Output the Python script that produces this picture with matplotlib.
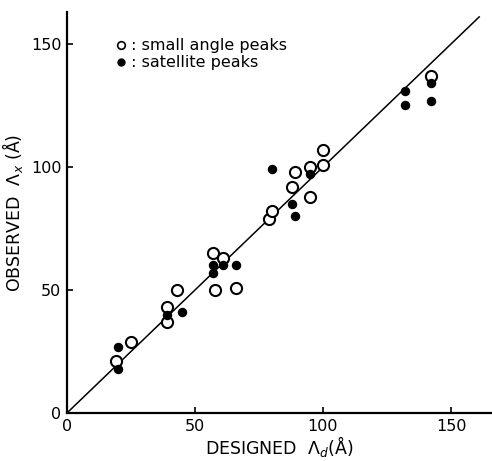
"""
Observed vs designed multilayer period: small angle peaks and satellite peaks.
"""
import matplotlib
matplotlib.use("Agg")
import matplotlib.pyplot as plt

# small angle peaks (open circles): designed, observed
small_x = [19, 25, 39, 39, 43, 57, 58, 61, 66, 79, 80, 88, 89, 95, 95, 100, 100, 142]
small_y = [21, 29, 37, 43, 50, 65, 50, 63, 51, 79, 82, 92, 98, 88, 100, 101, 107, 137]

# satellite peaks (filled circles)
sat_x = [20, 20, 39, 45, 57, 57, 61, 66, 80, 88, 89, 95, 132, 132, 142, 142]
sat_y = [18, 27, 40, 41, 57, 60, 60, 60, 99, 85, 80, 97, 131, 125, 134, 127]

# designed = observed reference line
line_x = [0, 161]
line_y = [0, 161]

x_ticks = [0, 50, 100, 150]
y_ticks = [0, 50, 100, 150]


def main():
    fig = plt.figure(figsize=(4.92, 4.61), dpi=100)
    ax = fig.add_axes([0.136, 0.104, 0.864, 0.87])

    ax.plot(line_x, line_y, color="black", lw=1.1)
    ax.plot(small_x, small_y, "o", mfc="white", mec="black", mew=1.5, ms=8, ls="none")
    ax.plot(sat_x, sat_y, "o", color="black", ms=5.8, ls="none")

    ax.set_xlim(0, 166)
    ax.set_ylim(0, 163)
    for side in ("top", "right"):
        ax.spines[side].set_visible(False)
    for side in ("left", "bottom"):
        ax.spines[side].set_linewidth(1.6)

    ax.set_xticks(x_ticks)
    ax.set_yticks(y_ticks)
    ax.tick_params(direction="in", length=4, width=1.2, labelsize=11.5, pad=4)

    ax.set_xlabel("DESIGNED  $\\Lambda_d$(Å)", fontsize=12.5, labelpad=0)
    ax.set_ylabel("OBSERVED  $\\Lambda_x$ (Å)", fontsize=12.5, labelpad=4)

    # legend drawn as text with markers
    ax.plot([21], [149.5], "o", mfc="white", mec="black", mew=1.2, ms=5.5,
            clip_on=False)
    ax.text(23, 149.5, " : small angle peaks", fontsize=11.5, va="center")
    ax.plot([21], [142.5], "o", color="black", ms=5, clip_on=False)
    ax.text(23, 142.5, " : satellite peaks", fontsize=11.5, va="center")

    fig.savefig("out.png", dpi=100)
    plt.close(fig)


if __name__ == "__main__":
    main()
